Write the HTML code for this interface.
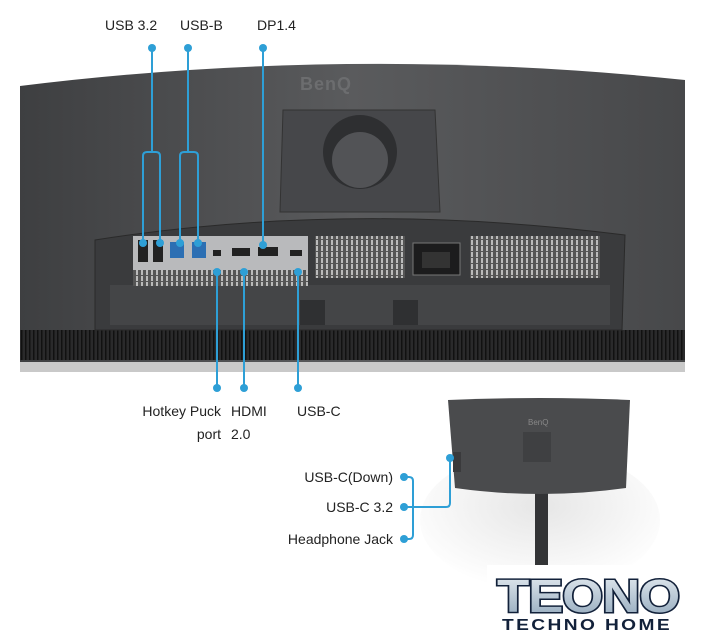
<!DOCTYPE html>
<html><head><style>
html,body{margin:0;padding:0;background:#fff}
svg{display:block}
text{font-family:"Liberation Sans",sans-serif}
</style></head><body>
<svg width="705" height="640" viewBox="0 0 705 640" xmlns="http://www.w3.org/2000/svg">
<defs>
<linearGradient id="bk" x1="0" y1="0" x2="1" y2="0">
<stop offset="0" stop-color="#3e3f41"/><stop offset="0.5" stop-color="#5a5b5d"/><stop offset="1" stop-color="#47484a"/>
</linearGradient>
<radialGradient id="sh" cx="0.5" cy="0.4" r="0.6">
<stop offset="0" stop-color="#e6e6e6"/><stop offset="1" stop-color="#ffffff"/>
</radialGradient>
<linearGradient id="lg" x1="0" y1="0" x2="0" y2="1">
<stop offset="0" stop-color="#e8eef3"/><stop offset="1" stop-color="#8fa6ba"/>
</linearGradient>
<pattern id="vent" width="5" height="6" patternUnits="userSpaceOnUse">
<rect width="5" height="6" fill="#555"/><rect x="1" y="0" width="2" height="5" fill="#bbb"/>
</pattern>
<pattern id="slot" width="4" height="30" patternUnits="userSpaceOnUse">
<rect width="4" height="30" fill="#2a2a2b"/><rect x="1" y="0" width="1.5" height="30" fill="#111"/>
</pattern>
</defs>
<rect width="705" height="640" fill="#fff"/>
<ellipse cx="540" cy="520" rx="120" ry="70" fill="url(#sh)"/>
<!-- main monitor -->
<path d="M20 86 Q350 45 685 80 L685 372 L20 372 Z" fill="url(#bk)"/>
<rect x="20" y="362" width="665" height="10" fill="#c9c9c9"/>
<rect x="20" y="330" width="665" height="30" fill="url(#slot)"/>
<text x="300" y="90" font-size="18" font-weight="bold" fill="#6c6d6f" letter-spacing="1">BenQ</text>
<path d="M283 110 L435 110 L440 212 L280 212 Z" fill="#46474a" stroke="#333" stroke-width="1"/>
<circle cx="360" cy="152" r="37" fill="#2e2f31"/>
<circle cx="360" cy="160" r="28" fill="#525356"/>
<path d="M95 240 Q350 200 625 235 L622 330 L95 330 Z" fill="#3a3b3d" stroke="#2a2a2a"/>
<rect x="110" y="285" width="500" height="40" fill="#444547"/>
<rect x="133" y="236" width="175" height="50" fill="#b9babc"/>
<rect x="133" y="270" width="175" height="16" fill="url(#vent)"/>
<rect x="138" y="240" width="10" height="22" fill="#222"/>
<rect x="153" y="240" width="10" height="22" fill="#222"/>
<rect x="170" y="242" width="14" height="16" fill="#2c6fb3"/>
<rect x="192" y="242" width="14" height="16" fill="#2c6fb3"/>
<rect x="213" y="250" width="8" height="6" fill="#222"/>
<rect x="232" y="248" width="18" height="8" fill="#222"/>
<rect x="258" y="247" width="20" height="9" fill="#222"/>
<rect x="290" y="250" width="12" height="6" fill="#222"/>
<rect x="315" y="236" width="90" height="42" fill="url(#vent)"/>
<rect x="470" y="236" width="130" height="42" fill="url(#vent)"/>
<rect x="413" y="243" width="47" height="32" fill="#1c1c1d" stroke="#777"/>
<rect x="422" y="252" width="28" height="16" fill="#333"/>
<rect x="300" y="300" width="25" height="25" fill="#2f3032"/>
<rect x="393" y="300" width="25" height="25" fill="#2f3032"/>
<!-- small monitor -->
<rect x="535" y="470" width="13" height="105" fill="#333436"/>
<path d="M448 400 Q540 396 630 400 L626 488 Q540 500 455 488 Z" fill="#4a4b4d"/>
<rect x="453" y="452" width="8" height="20" fill="#3a3a3c"/>
<rect x="523" y="432" width="28" height="30" fill="#3f4042"/>
<text x="528" y="425" font-size="8" fill="#888">BenQ</text>
<!-- connectors -->
<g stroke="#2e9fd6" stroke-width="2" fill="none">
<path d="M152 48 V152 M143 243 V156 Q143 152 147 152 H156 Q160 152 160 156 V243"/>
<path d="M188 48 V152 M180 243 V156 Q180 152 184 152 H194 Q198 152 198 156 V243"/>
<path d="M263 48 V245"/>
<path d="M217 272 V388 M244 272 V388 M298 272 V388"/>
<path d="M404 477 H409 Q413 477 413 481 V535 Q413 539 409 539 H404 M404 507 H446 Q450 507 450 503 V458"/>
</g>
<g fill="#2e9fd6">
<circle cx="152" cy="48" r="4"/><circle cx="188" cy="48" r="4"/><circle cx="263" cy="48" r="4"/>
<circle cx="143" cy="243" r="4"/><circle cx="160" cy="243" r="4"/><circle cx="180" cy="243" r="4"/><circle cx="198" cy="243" r="4"/>
<circle cx="263" cy="245" r="4"/>
<circle cx="217" cy="272" r="4"/><circle cx="244" cy="272" r="4"/><circle cx="298" cy="272" r="4"/>
<circle cx="217" cy="388" r="4"/><circle cx="244" cy="388" r="4"/><circle cx="298" cy="388" r="4"/>
<circle cx="404" cy="477" r="4"/><circle cx="404" cy="507" r="4"/><circle cx="404" cy="539" r="4"/>
<circle cx="450" cy="458" r="4"/>
</g>
<g font-size="14" fill="#222">
<text x="105" y="30">USB 3.2</text>
<text x="180" y="30">USB-B</text>
<text x="257" y="30">DP1.4</text>
<text x="221" y="416" text-anchor="end">Hotkey Puck</text>
<text x="221" y="439" text-anchor="end">port</text>
<text x="231" y="416">HDMI</text>
<text x="231" y="439">2.0</text>
<text x="297" y="416">USB-C</text>
<text x="393" y="482" text-anchor="end">USB-C(Down)</text>
<text x="393" y="512" text-anchor="end">USB-C 3.2</text>
<text x="393" y="544" text-anchor="end">Headphone Jack</text>
</g>
<!-- logo -->
<rect x="487" y="565" width="218" height="75" fill="#fff"/>
<text x="497" y="612" font-size="46" font-weight="bold" fill="url(#lg)" stroke="#12213a" stroke-width="3" paint-order="stroke" letter-spacing="-1" textLength="182" lengthAdjust="spacingAndGlyphs">TEONO</text>
<text x="502" y="630" font-size="16" font-weight="bold" fill="#12213a" letter-spacing="2" textLength="170" lengthAdjust="spacingAndGlyphs">TECHNO HOME</text>
</svg>
</body></html>
